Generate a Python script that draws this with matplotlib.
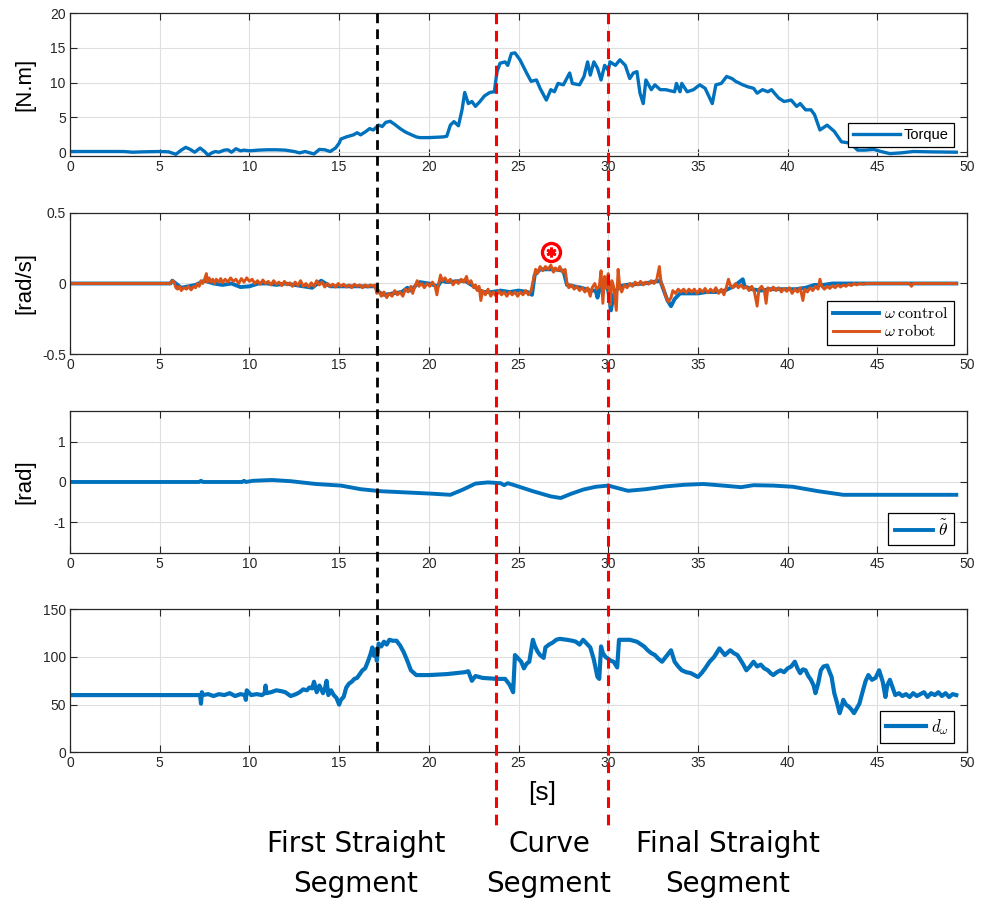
import matplotlib
matplotlib.use("Agg")
import matplotlib.pyplot as plt
import matplotlib.transforms as mtransforms
from matplotlib.lines import Line2D

plt.rcParams['font.family'] = ['Liberation Sans', 'DejaVu Sans']
plt.rcParams['mathtext.fontset'] = 'cm'
plt.rcParams['axes.unicode_minus'] = False

# ---------------- data ----------------
torque_t = [0.0, 3.0, 3.5, 4.0, 5.0, 5.5, 5.9, 6.2, 6.45, 6.7, 6.95, 7.25, 7.5, 7.7, 7.9, 8.1, 8.3, 8.6, 8.8,
            9.0, 9.25, 9.5, 9.7, 10.0, 10.5, 11.0, 11.5, 12.0, 12.5, 12.8, 13.1, 13.6, 13.9, 14.2, 14.5, 14.8,
            15.0, 15.1, 15.4, 15.8, 16.0, 16.2, 16.5, 16.7, 16.9, 17.2, 17.4, 17.6, 17.85, 18.1, 18.4, 18.7,
            18.95, 19.3, 19.5, 20.0, 20.8, 21.0, 21.2, 21.4, 21.65, 21.85, 22.0, 22.2, 22.4, 22.6, 22.85,
            23.1, 23.4, 23.65, 23.8, 23.97, 24.25, 24.4, 24.6, 24.8, 25.08, 25.45, 25.7, 26.0, 26.2, 26.55,
            26.8, 27.0, 27.2, 27.5, 27.85, 28.0, 28.4, 28.65, 28.85, 29.0, 29.2, 29.4, 29.6, 29.8, 30.0,
            30.1, 30.4, 30.65, 30.95, 31.2, 31.4, 31.6, 31.77, 31.95, 32.1, 32.4, 32.6, 32.9, 33.2, 33.7,
            33.8, 34.0, 34.1, 34.4, 34.75, 35.1, 35.4, 35.8, 36.0, 36.3, 36.6, 36.9, 37.1, 37.5, 37.8,
            38.1, 38.3, 38.6, 38.9, 39.1, 39.5, 39.8, 40.2, 40.5, 40.7, 41.0, 41.3, 41.5, 41.8, 42.2,
            42.6, 43.0, 43.5, 43.9, 44.3, 44.8, 45.2, 45.7, 46.3, 47.0, 48.0, 49.4]
torque_v = [0.1, 0.1, 0.0, 0.05, 0.1, 0.05, -0.3, 0.3, 0.7, 0.4, 0.0, 0.6, 0.1, -0.45, -0.1, 0.1, 0.0, 0.3, 0.35,
            0.0, 0.5, 0.2, 0.3, 0.2, 0.3, 0.35, 0.35, 0.3, 0.1, -0.1, 0.1, -0.25, 0.4, 0.35, 0.1, 0.6,
            1.3, 1.9, 2.2, 2.5, 2.8, 2.5, 3.0, 3.4, 3.2, 3.9, 3.7, 4.3, 4.45, 4.0, 3.4, 2.9,
            2.6, 2.2, 2.1, 2.1, 2.2, 2.3, 3.9, 4.4, 3.8, 6.1, 8.6, 7.0, 7.3, 6.6, 7.3,
            8.1, 8.6, 8.7, 11.6, 12.8, 13.0, 12.5, 14.2, 14.3, 13.3, 11.4, 10.2, 10.4, 9.2, 7.5,
            9.0, 8.7, 9.9, 9.7, 11.4, 9.9, 9.7, 10.9, 13.0, 11.1, 13.0, 12.1, 10.4, 12.5, 11.8,
            13.0, 12.5, 13.3, 12.5, 10.6, 11.4, 11.6, 8.5, 7.0, 10.4, 9.0, 9.7, 9.0, 9.0, 8.7,
            9.9, 8.7, 9.9, 8.7, 9.0, 9.7, 9.2, 7.0, 9.7, 9.9, 10.9, 10.6, 10.2, 9.7, 9.4,
            9.2, 8.5, 9.0, 8.7, 9.0, 7.8, 7.3, 7.5, 6.6, 7.0, 6.1, 6.1, 5.4, 3.2, 3.9,
            3.0, 1.5, 1.3, 0.3, 0.3, 0.4, 0.1, -0.2, -0.1, 0.1, 0.05, 0.0]

omega_robot_t = [0.0, 5.6, 5.7, 5.8, 5.9, 6.0, 6.1, 6.2, 6.35, 6.5, 6.6, 6.75, 6.9, 7.0, 7.1, 7.2, 7.3, 7.4, 7.5,
                 7.6, 7.65, 7.75, 7.85, 7.95, 8.05, 8.15, 8.3, 8.4, 8.5, 8.65, 8.8, 8.95, 9.1, 9.25, 9.4,
                 9.55, 9.7, 9.85, 10.0, 10.15, 10.3, 10.45, 10.6, 10.75, 10.9, 11.05, 11.2, 11.35, 11.5,
                 11.65, 11.8, 11.95, 12.1, 12.25, 12.4, 12.55, 12.7, 12.85, 13.0, 13.15, 13.3, 13.45, 13.6,
                 13.75, 13.9, 14.05, 14.2, 14.35, 14.5, 14.65, 14.8, 14.95, 15.1, 15.25, 15.4, 15.55, 15.7,
                 15.85, 16.0, 16.15, 16.3, 16.45, 16.6, 16.75, 16.9, 17.0, 17.1, 17.2, 17.35, 17.5, 17.65,
                 17.8, 17.95, 18.1, 18.25, 18.4, 18.55, 18.7, 18.85, 19.0, 19.1, 19.2, 19.35, 19.45, 19.6,
                 19.75, 19.9, 20.05, 20.2, 20.35, 20.45, 20.55, 20.65, 20.75, 20.9, 21.05, 21.2, 21.35, 21.5,
                 21.65, 21.8, 21.95, 22.1, 22.2, 22.35, 22.5, 22.6, 22.7, 22.8, 22.9, 23.0, 23.15, 23.3,
                 23.45, 23.6, 23.75, 23.9, 24.05, 24.2, 24.35, 24.5, 24.65, 24.8, 24.95, 25.1, 25.25, 25.4,
                 25.55, 25.7, 25.85, 25.95, 26.05, 26.2, 26.35, 26.5, 26.65, 26.8, 26.95, 27.05, 27.2, 27.3,
                 27.45, 27.6, 27.7, 27.8, 27.95, 28.1, 28.25, 28.4, 28.55, 28.7, 28.85, 29.0, 29.1, 29.25,
                 29.35, 29.5, 29.6, 29.7, 29.8, 29.9, 30.0, 30.1, 30.2, 30.3, 30.45, 30.55, 30.65, 30.75,
                 30.9, 31.05, 31.2, 31.35, 31.5, 31.65, 31.8, 31.95, 32.1, 32.25, 32.4, 32.55, 32.7, 32.85,
                 32.95, 33.05, 33.2, 33.35, 33.5, 33.6, 33.75, 33.9, 34.05, 34.2, 34.35, 34.5, 34.65, 34.8,
                 34.95, 35.1, 35.25, 35.4, 35.55, 35.7, 35.85, 36.0, 36.15, 36.3, 36.45, 36.6, 36.7, 36.8,
                 36.95, 37.1, 37.25, 37.4, 37.55, 37.7, 37.85, 38.0, 38.15, 38.3, 38.4, 38.55, 38.7, 38.8,
                 38.9, 39.05, 39.2, 39.35, 39.5, 39.65, 39.8, 39.95, 40.1, 40.25, 40.4, 40.55, 40.7, 40.85,
                 40.95, 41.1, 41.25, 41.4, 41.55, 41.7, 41.8, 41.9, 42.05, 42.2, 42.35, 42.5, 42.65, 42.8,
                 42.95, 43.1, 43.25, 43.4, 43.55, 43.7, 43.85, 44.0, 44.2, 44.4, 46.8, 46.9, 47.0, 49.4]
omega_robot_v = [0.0, 0.0, 0.02, 0.01, -0.03, -0.04, -0.02, -0.05, -0.03, -0.04, -0.02, -0.045, -0.02, -0.03, 0.0, -0.02, 0.02, 0.0, 0.03,
                 0.07, 0.01, 0.04, 0.01, 0.03, 0.0, 0.03, 0.01, 0.035, 0.005, 0.03, 0.01, 0.04, 0.015, 0.03, 0.0,
                 0.035, 0.01, 0.04, 0.015, 0.03, 0.0, 0.02, -0.005, 0.025, 0.0, 0.015, -0.01, 0.02, -0.005,
                 0.01, -0.015, 0.015, -0.01, 0.005, -0.02, 0.01, -0.015, 0.02, -0.02, 0.0, -0.025, 0.005, -0.02,
                 0.02, -0.01, 0.01, -0.025, 0.0, -0.02, -0.005, -0.025, 0.0, -0.02, -0.005, -0.025, -0.01, -0.03,
                 -0.005, -0.02, -0.01, -0.03, -0.01, -0.025, -0.01, -0.02, -0.01, -0.07, -0.05, -0.09, -0.06, -0.1,
                 -0.07, -0.09, -0.05, -0.08, -0.06, -0.09, -0.04, -0.06, -0.02, -0.07, -0.03, 0.02, -0.02, 0.0,
                 -0.03, 0.0, -0.02, 0.01, -0.02, -0.08, 0.0, 0.06, 0.02, 0.04, 0.01, 0.03, -0.01, 0.02,
                 0.0, 0.03, 0.01, 0.05, 0.0, 0.02, -0.03, -0.01, -0.05, -0.02, -0.12, -0.05, -0.08, -0.04,
                 -0.09, -0.06, -0.09, -0.05, -0.08, -0.06, -0.09, -0.06, -0.08, -0.06, -0.09, -0.06, -0.08, -0.05,
                 -0.08, -0.05, 0.04, 0.1, 0.07, 0.12, 0.09, 0.12, 0.1, 0.13, 0.08, 0.11, 0.09, 0.12,
                 0.08, 0.1, 0.0, -0.03, -0.01, -0.04, -0.02, -0.05, -0.03, -0.06, -0.03, -0.09, -0.03, 0.0,
                 -0.04, -0.02, 0.09, -0.14, 0.05, -0.03, 0.07, -0.15, 0.02, -0.02, -0.19, 0.1, -0.03, -0.06,
                 -0.01, -0.03, 0.0, -0.02, 0.01, -0.01, 0.015, -0.01, 0.01, -0.005, 0.02, 0.0, 0.025, 0.12,
                 0.0, -0.02, -0.09, -0.13, -0.1, -0.05, -0.07, -0.04, -0.06, -0.04, -0.065, -0.04, -0.06, -0.04,
                 -0.07, -0.04, -0.06, -0.035, -0.065, -0.04, -0.06, -0.03, -0.07, -0.04, -0.08, -0.02, 0.03, -0.01,
                 -0.03, 0.0, -0.03, -0.01, -0.035, -0.02, -0.05, -0.02, -0.06, -0.16, -0.04, -0.02, -0.05, -0.14,
                 -0.03, -0.05, -0.025, -0.05, -0.03, -0.06, -0.035, -0.055, -0.03, -0.07, -0.04, -0.06, -0.03, -0.12,
                 -0.04, -0.06, -0.03, -0.05, -0.02, -0.04, 0.03, -0.02, -0.04, -0.02, -0.035, -0.015, -0.03, -0.01,
                 -0.025, -0.01, -0.02, -0.005, -0.015, 0.0, -0.01, 0.0, -0.005, 0.0, 0.0, -0.02, 0.0, 0.0]

omega_ctrl_t = [0.0, 5.6, 5.7, 5.9, 6.2, 6.6, 7.0, 7.5, 8.0, 8.5, 9.0, 9.5, 10.0, 10.5, 11.0, 11.5, 12.0, 12.5,
                13.0, 13.5, 14.0, 14.5, 15.0, 16.0, 17.0, 17.2, 17.5, 18.0, 18.5, 18.8, 19.0, 19.3, 19.5, 20.0,
                20.5, 20.7, 21.0, 22.0, 22.5, 23.0, 23.5, 24.0, 24.5, 25.0, 25.5, 25.75, 25.9, 26.2, 27.0, 27.5,
                27.7, 28.5, 29.0, 29.3, 29.4, 29.5, 29.8, 30.0, 30.15, 30.3, 30.6, 31.0, 32.0, 32.9, 33.1, 33.3,
                33.5, 33.7, 34.0, 34.5, 35.0, 35.5, 36.0, 36.5, 37.0, 37.5, 37.6, 38.0, 38.5, 39.0, 39.5, 40.0,
                40.5, 41.0, 41.5, 42.0, 42.5, 43.0, 44.0, 49.4]
omega_ctrl_v = [0.0, 0.0, 0.02, 0.0, -0.03, -0.02, -0.01, 0.02, 0.0, -0.01, 0.0, -0.025, -0.02, 0.0, 0.0, -0.01, 0.0, -0.01,
                -0.02, -0.03, 0.02, -0.02, -0.02, -0.02, -0.02, -0.06, -0.08, -0.07, -0.06, -0.03, -0.05, -0.01, 0.01, 0.0,
                -0.02, 0.02, 0.01, 0.02, -0.02, -0.06, -0.06, -0.05, -0.06, -0.05, -0.06, -0.08, 0.06, 0.1, 0.1, 0.09,
                -0.01, -0.03, -0.05, -0.05, -0.1, -0.05, 0.0, -0.05, -0.19, -0.08, -0.02, -0.01, 0.0, 0.02, -0.05, -0.12,
                -0.16, -0.11, -0.07, -0.07, -0.07, -0.06, -0.06, -0.05, -0.02, 0.03, -0.02, -0.04, -0.05, -0.04, -0.04, -0.04,
                -0.04, -0.03, -0.01, -0.01, 0.0, 0.0, 0.0, 0.0]

theta_t = [0.0, 7.2, 7.3, 7.4, 9.6, 9.7, 9.8, 10.2, 11.25, 12.3, 13.7, 15.1, 16.2, 17.3, 18.7, 20.1, 21.2, 21.9,
           22.6, 23.3, 24.0, 24.2, 24.4, 24.7, 25.8, 26.8, 27.35, 27.9, 28.6, 29.3, 30.0, 31.1, 32.1, 33.2,
           34.25, 35.3, 36.4, 37.4, 38.1, 39.2, 40.3, 41.7, 43.1, 44.5, 49.4]
theta_v = [0.0, 0.0, 0.03, 0.0, 0.0, 0.03, 0.0, 0.03, 0.05, 0.02, -0.05, -0.09, -0.18, -0.23, -0.26, -0.29, -0.32, -0.19,
           -0.04, -0.01, -0.03, -0.08, -0.03, -0.07, -0.23, -0.36, -0.4, -0.3, -0.19, -0.12, -0.09, -0.22, -0.18, -0.11,
           -0.07, -0.05, -0.09, -0.13, -0.08, -0.09, -0.12, -0.23, -0.32, -0.32, -0.32]

dw_t = [0.0, 7.25, 7.3, 7.35, 7.4, 7.7, 8.0, 8.3, 8.6, 8.9, 9.2, 9.5, 9.75, 9.8, 9.85, 10.1, 10.4, 10.7, 10.85,
        10.9, 10.95, 11.2, 11.5, 11.8, 12.0, 12.3, 12.6, 12.8, 13.0, 13.2, 13.35, 13.5, 13.6, 13.75, 13.9, 14.0,
        14.1, 14.2, 14.3, 14.4, 14.55, 14.7, 14.85, 15.0, 15.1, 15.25, 15.4, 15.55, 15.7, 15.85, 16.0, 16.15,
        16.3, 16.45, 16.6, 16.75, 16.85, 16.95, 17.05, 17.1, 17.2, 17.35, 17.5, 17.65, 17.8, 18.0, 18.2, 18.4,
        18.6, 18.8, 19.0, 19.3, 20.0, 21.0, 22.0, 22.2, 22.4, 22.6, 23.0, 23.8, 24.25, 24.5, 24.7, 24.8,
        25.0, 25.15, 25.3, 25.45, 25.6, 25.8, 25.9, 26.05, 26.2, 26.4, 26.5, 26.7, 26.9, 27.1, 27.3, 27.7,
        28.0, 28.2, 28.4, 28.6, 28.8, 29.0, 29.2, 29.4, 29.5, 29.6, 29.7, 29.85, 30.0, 30.15, 30.3, 30.5,
        30.6, 30.9, 31.2, 31.6, 32.0, 32.2, 32.4, 32.6, 32.8, 33.0, 33.25, 33.5, 33.7, 33.9, 34.1, 34.35,
        34.6, 34.8, 35.0, 35.2, 35.4, 35.65, 35.9, 36.2, 36.5, 36.8, 37.0, 37.2, 37.5, 37.7, 37.9, 38.1,
        38.3, 38.5, 38.7, 38.9, 39.05, 39.2, 39.4, 39.6, 39.8, 40.0, 40.2, 40.4, 40.55, 40.7, 40.85, 41.0,
        41.15, 41.3, 41.45, 41.55, 41.7, 41.85, 42.0, 42.2, 42.3, 42.45, 42.6, 42.75, 42.9, 43.0, 43.1, 43.25,
        43.4, 43.55, 43.7, 43.85, 44.0, 44.2, 44.35, 44.5, 44.7, 44.9, 45.1, 45.3, 45.45, 45.55, 45.7, 45.85,
        46.0, 46.2, 46.4, 46.6, 46.8, 47.0, 47.2, 47.4, 47.6, 47.8, 48.0, 48.2, 48.4, 48.6, 48.8, 49.0,
        49.2, 49.4]
dw_v = [60, 60, 51, 63, 60, 61, 59, 61, 60, 62, 59, 61, 60, 55, 65, 60, 61, 60, 62,
        70, 62, 63, 65, 64, 63, 59, 61, 63, 66, 65, 68, 67, 74, 63, 70, 66,
        62, 66, 75, 60, 65, 60, 57, 50, 55, 58, 68, 72, 74, 77, 78, 82,
        86, 88, 95, 103, 110, 101, 108, 96, 114, 111, 116, 113, 118, 117, 117, 112,
        105, 96, 86, 81, 81, 82, 84, 85, 75, 80, 78, 77, 77, 71, 63, 102,
        98, 95, 88, 93, 95, 118, 112, 106, 102, 99, 110, 113, 115, 118, 119, 118,
        117, 116, 113, 118, 114, 110, 97, 79, 77, 111, 104, 100, 98, 96, 95, 89,
        118, 118, 118, 116, 111, 107, 104, 102, 98, 95, 101, 107, 95, 90, 86, 84,
        83, 81, 79, 83, 88, 95, 100, 109, 102, 107, 104, 102, 93, 86, 90, 95,
        90, 92, 88, 86, 83, 81, 84, 86, 84, 88, 90, 95, 88, 83, 87, 86,
        80, 76, 70, 62, 72, 86, 90, 91, 86, 79, 62, 52, 41, 47, 55, 50,
        48, 45, 41, 46, 51, 65, 75, 81, 76, 78, 86, 74, 58, 70, 76, 68,
        60, 62, 59, 61, 58, 62, 59, 61, 63, 58, 62, 60, 63, 59, 62, 58,
        61, 60]

xticks = [0, 5, 10, 15, 20, 25, 30, 35, 40, 45, 50]
yticks_torque = [0, 5, 10, 15, 20]
yticks_omega = [-0.5, 0, 0.5]
yticks_theta = [-1, 0, 1]
yticks_dw = [0, 50, 100, 150]

t_first_end = 17.1
t_curve_start = 23.74
t_curve_end = 30.0
star_t = 26.8
star_v = 0.22

segment_labels = [("First Straight", "Segment"), ("Curve", "Segment"), ("Final Straight", "Segment")]

# ---------------- figure ----------------
BLUE = '#0072BD'
ORANGE = '#D95319'
FRAME = '#262626'

fig = plt.figure(figsize=(9.89, 9.02), dpi=100)
fig.patch.set_facecolor('white')

L, W = 0.0708, 0.907
ax1 = fig.add_axes([L, 0.8274, W, 0.1579])
ax2 = fig.add_axes([L, 0.6072, W, 0.1570])
ax3 = fig.add_axes([L, 0.3866, W, 0.1581])
ax4 = fig.add_axes([L, 0.1660, W, 0.1585])


def style(ax, yticks, ylim):
    ax.set_xlim(0, 50)
    ax.set_ylim(*ylim)
    ax.set_xticks(xticks)
    ax.set_yticks(yticks)
    ax.grid(True, color='#dfdfdf', linewidth=0.8)
    ax.set_axisbelow(True)
    ax.tick_params(direction='in', length=5, width=0.8, colors=FRAME, labelsize=10,
                   top=True, right=True, pad=3)
    for s in ax.spines.values():
        s.set_color(FRAME)
        s.set_linewidth(0.9)


leg_kw = dict(loc='lower right', fancybox=False, framealpha=1, edgecolor='black',
              borderaxespad=0, handletextpad=0.3, borderpad=0.35)

# Torque
ax1.plot(torque_t, torque_v, color=BLUE, lw=2.4, label='Torque')
style(ax1, yticks_torque, (-0.5, 20))
ax1.set_ylabel('[N.m]', fontsize=16)
ax1.yaxis.set_label_coords(-0.039, 0.5)
lg = ax1.legend(bbox_to_anchor=(0.9855, 0.061), fontsize=10.5, handlelength=3.2, **leg_kw)
lg.get_frame().set_linewidth(0.9)

# Omega
ax2.plot(omega_ctrl_t, omega_ctrl_v, color=BLUE, lw=2.8, label=r'$\omega\;\mathrm{control}$')
ax2.plot(omega_robot_t, omega_robot_v, color=ORANGE, lw=2.1, label=r'$\omega\;\mathrm{robot}$')
ax2.plot([star_t], [star_v], marker='o', ms=13, mfc='white', mec='#ff0000', mew=2.4, ls='none')
ax2.plot([star_t], [star_v], marker=(6, 2, 0), ms=7, mec='#ff0000', mew=2.0, ls='none')
style(ax2, yticks_omega, (-0.5, 0.5))
ax2.set_yticklabels(['-0.5', '0', '0.5'])
ax2.set_ylabel('[rad/s]', fontsize=16)
ax2.yaxis.set_label_coords(-0.039, 0.5)
lg = ax2.legend(bbox_to_anchor=(0.9855, 0.066), fontsize=11.5, handlelength=2.9,
                labelspacing=0.12, **leg_kw)
lg.get_frame().set_linewidth(0.9)

# Theta
ax3.plot(theta_t, theta_v, color=BLUE, lw=2.8, label=r'$\tilde{\theta}$')
style(ax3, yticks_theta, (-1.78, 1.78))
ax3.set_ylabel('[rad]', fontsize=16)
ax3.yaxis.set_label_coords(-0.039, 0.5)
lg = ax3.legend(bbox_to_anchor=(0.9855, 0.058), fontsize=12.5, handlelength=2.2, **leg_kw)
lg.get_frame().set_linewidth(0.9)

# d_omega
ax4.plot(dw_t, dw_v, color=BLUE, lw=3.0, label=r'$d_\omega$')
style(ax4, yticks_dw, (0, 150))
lg = ax4.legend(bbox_to_anchor=(0.9855, 0.065), fontsize=12, handlelength=2.4, **leg_kw)
lg.get_frame().set_linewidth(0.9)

# vertical dashed segment separators spanning the figure
trans = mtransforms.blended_transform_factory(ax1.transData, fig.transFigure)
fig.add_artist(Line2D([t_first_end, t_first_end], [0.9856, 0.166], transform=trans,
                      color='black', lw=2.0, ls=(0, (3.5, 2.2)), zorder=10))
for tv in (t_curve_start, t_curve_end):
    fig.add_artist(Line2D([tv, tv], [0.9856, 0.085], transform=trans,
                          color='#ff0000', lw=2.2, ls=(0, (3.5, 2.2)), zorder=10))

fig.text(0.548, 0.121, '[s]', fontsize=19, ha='center', va='center', family='Liberation Sans')

seg_x = [356 / 989, 549 / 989, 728 / 989]
for x, (l1, l2) in zip(seg_x, segment_labels):
    fig.text(x, 1 - 844 / 902, l1, fontsize=20, ha='center', va='center', family='DejaVu Sans')
    fig.text(x, 1 - 884 / 902, l2, fontsize=20, ha='center', va='center', family='DejaVu Sans')

fig.savefig('out.png', dpi=100, facecolor='white')
